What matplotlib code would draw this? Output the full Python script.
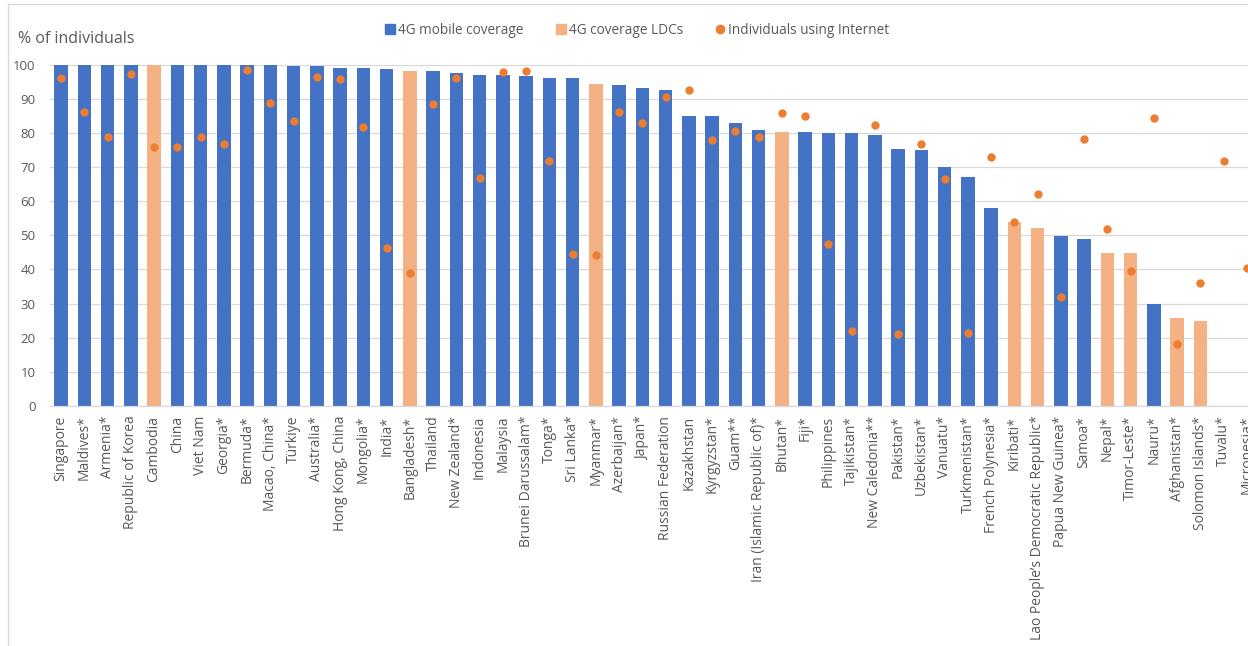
import numpy as np
import matplotlib
matplotlib.use("Agg")
import matplotlib.pyplot as plt
from matplotlib.lines import Line2D
from matplotlib.patches import Rectangle

countries = [
    "Singapore", "Maldives*", "Armenia*", "Republic of Korea", "Cambodia", "China",
    "Viet Nam", "Georgia*", "Bermuda*", "Macao, China*", "Türkiye", "Australia*",
    "Hong Kong, China", "Mongolia*", "India*", "Bangladesh*", "Thailand", "New Zealand*",
    "Indonesia", "Malaysia", "Brunei Darussalam*", "Tonga*", "Sri Lanka*", "Myanmar*",
    "Azerbaijan*", "Japan*", "Russian Federation", "Kazakhstan", "Kyrgyzstan*", "Guam**",
    "Iran (Islamic Republic of)*", "Bhutan*", "Fiji*", "Philippines", "Tajikistan*",
    "New Caledonia**", "Pakistan*", "Uzbekistan*", "Vanuatu*", "Turkmenistan*",
    "French Polynesia*", "Kiribati*", "Lao People\u2019s Democratic Republic*",
    "Papua New Guinea*", "Samoa*", "Nepal*", "Timor-Leste*", "Nauru*", "Afghanistan*",
    "Solomon Islands*", "Tuvalu*", "Micronesia*",
]

coverage_4g = [
    100, 100, 100, 99.8, 99.8, 99.8, 99.8, 99.8, 99.8, 99.8, 99.5, 99.5,
    99.1, 99.1, 98.8, 98.2, 98.2, 97.6, 97.0, 97.0, 96.7, 96.0, 96.0, 94.4,
    94.1, 93.2, 92.6, 85.0, 85.0, 82.9, 80.9, 80.1, 80.1, 80.0, 80.0,
    79.5, 75.4, 75.1, 70.1, 67.1, 58.0, 53.9, 52.0, 49.9, 48.9, 44.9, 44.9,
    29.9, 25.8, 24.8, np.nan, np.nan,
]

is_ldc = [
    False, False, False, False, True, False, False, False, False, False, False, False,
    False, False, False, True, False, False, False, False, False, False, False, True,
    False, False, False, False, False, False, False, True, False, False, False,
    False, False, False, False, False, False, True, True, False, False, True, True,
    False, True, True, False, False,
]

internet_use = [
    96.0, 86.0, 78.8, 97.3, 75.7, 75.7, 78.8, 76.6, 98.5, 88.6, 83.5, 96.3,
    95.7, 81.7, 46.4, 38.9, 88.3, 96.0, 66.7, 97.7, 98.2, 71.7, 44.5, 44.3,
    86.0, 82.9, 90.6, 92.6, 77.9, 80.6, 78.8, 85.7, 85.0, 47.3, 22.0,
    82.2, 21.1, 76.7, 66.4, 21.4, 72.9, 54.0, 62.0, 32.0, 78.2, 51.7, 39.5,
    84.2, 18.3, 36.1, 71.7, 40.4,
]

series_labels = ["4G mobile coverage", "4G coverage LDCs", "Individuals using Internet"]
y_ticks = list(range(0, 101, 10))

BLUE = "#4472C4"
PEACH = "#F4B183"
ORANGE = "#ED7D31"
TXT = "#595959"
GRID = "#D9D9D9"

plt.rcParams["font.family"] = ["Open Sans", "DejaVu Sans"]

W, H = 1248, 646
fig = plt.figure(figsize=(W / 100, H / 100), dpi=100)

# chart-area frame (partly cropped)
fig.patches.append(Rectangle((8 / W, -0.1), 1.2, (H - 4) / H + 0.1,
                             transform=fig.transFigure, fill=False,
                             edgecolor=GRID, linewidth=1.0))

step = 23.25
n = len(countries)
ax = fig.add_axes([49.5 / W, 240 / H, n * step / W, 341.5 / H])

x = np.arange(n)
cov = np.array(coverage_4g, dtype=float)
ldc = np.array(is_ldc)
blue_vals = np.where(~ldc, cov, np.nan)
ldc_vals = np.where(ldc, cov, np.nan)

ax.bar(x, blue_vals, width=0.58, color=BLUE, zorder=2)
ax.bar(x, ldc_vals, width=0.58, color=PEACH, zorder=2)
ax.scatter(x, internet_use, s=36, color=ORANGE, zorder=3, linewidths=0)

ax.set_xlim(-0.5, n - 0.5)
ax.set_ylim(0, 100)
ax.set_yticks(y_ticks)
ax.set_xticks(x)
ax.set_xticklabels(countries, rotation=90, ha="center", va="top")
ax.tick_params(axis="both", length=0, colors=TXT, labelsize=9.5)
ax.tick_params(axis="x", labelsize=10, pad=7)
ax.tick_params(axis="y", pad=10)
ax.yaxis.grid(True, color=GRID, linewidth=0.9, zorder=0)
ax.set_axisbelow(True)
for s in ["top", "right", "left"]:
    ax.spines[s].set_visible(False)
ax.spines["bottom"].set_color(GRID)
ax.spines["bottom"].set_linewidth(0.9)

fig.text(18 / W, 1 - 39 / H, "% of individuals", fontsize=11.5, color=TXT,
         ha="left", va="center")

handles = [
    Line2D([], [], marker="s", linestyle="none", markersize=6.5, color=BLUE),
    Line2D([], [], marker="s", linestyle="none", markersize=6.5, color=PEACH),
    Line2D([], [], marker="o", linestyle="none", markersize=6, color=ORANGE),
]
fig.legend(handles, series_labels, loc="center", bbox_to_anchor=(637 / W, 1 - 30 / H),
           ncol=3, frameon=False, fontsize=9.8, labelcolor=TXT,
           handlelength=0.8, handletextpad=0.2, columnspacing=2.3)

fig.savefig("out.png", dpi=100)
